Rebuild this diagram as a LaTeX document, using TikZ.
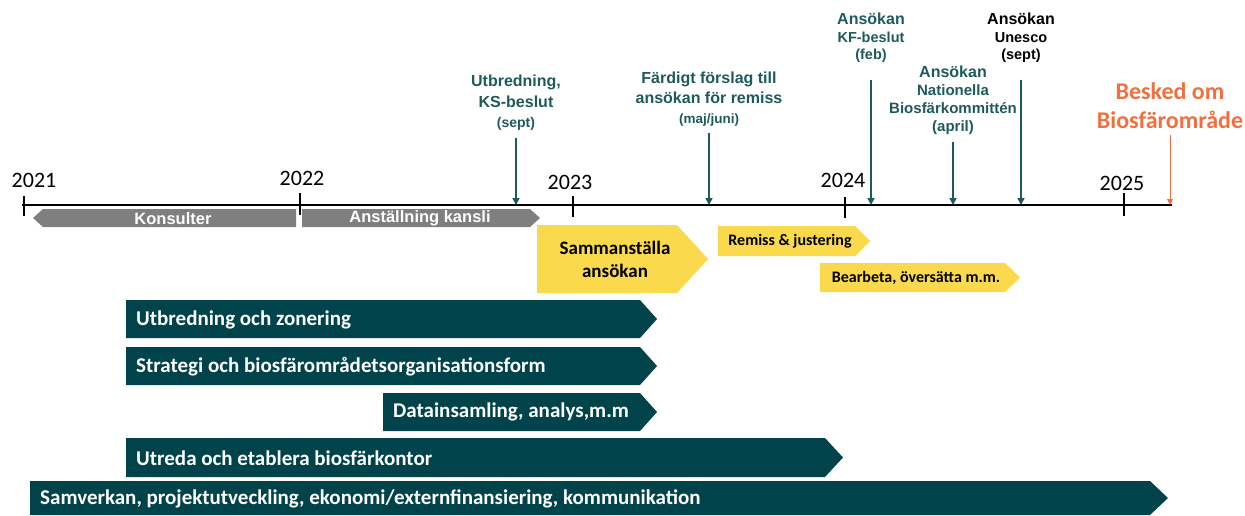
\documentclass[tikz,border=0pt]{standalone}
\usepackage{fontspec}
\setmainfont{Carlito}
\newfontfamily\arialf{Liberation Sans}
\usetikzlibrary{arrows.meta}
\definecolor{dkgreen}{HTML}{00434A}
\definecolor{ylw}{HTML}{FAD94C}
\definecolor{gry}{HTML}{7F7F7F}
\definecolor{tealtxt}{HTML}{1E5A5C}
\definecolor{orng}{HTML}{F07040}
\newcommand\myfs[2]{\fontsize{#1}{#2}\selectfont}
\begin{document}
\begin{tikzpicture}[x=1pt,y=-1pt,
  greenbar/.style={fill=dkgreen},
  yellowbar/.style={fill=ylw},
  graybar/.style={fill=gry},
  greentext/.style={text=white,font=\bfseries\myfs{21}{25},anchor=west,inner sep=0pt},
  yellowtext/.style={text=black,font=\bfseries\myfs{16}{20},align=center,inner sep=0pt},
  graytext/.style={text=white,font=\arialf\bfseries\myfs{16.5}{19},inner sep=0pt},
  yearlbl/.style={font=\myfs{22}{26},inner sep=0pt},
  yeartick/.style={line width=1.4pt,black},
  annot/.style={text=tealtxt,font=\arialf\bfseries\myfs{15}{19},align=center,inner sep=0pt,anchor=south},
  evarrow/.style={draw=tealtxt,line width=1.6pt,-{Triangle[length=7pt,width=7pt]}},
]
\useasboundingbox (0,0) rectangle (1245,515);

% timeline
\coordinate (tlA) at (22,205);
\coordinate (tlB) at (1172,205);
\draw[line width=1.8pt] (tlA) -- (tlB);
\draw[yeartick] (24,196) -- (24,216);
\draw[yeartick] (300,193) -- (300,215);
\draw[yeartick] (573,196) -- (573,217);
\draw[yeartick] (845,197) -- (845,218);
\draw[yeartick] (1124,193) -- (1124,216);
\node[yearlbl] (y21) at (34,180) {2021};
\node[yearlbl] (y22) at (302,178) {2022};
\node[yearlbl] (y23) at (570,182) {2023};
\node[yearlbl] (y24) at (843,180) {2024};
\node[yearlbl] (y25) at (1122,183) {2025};

% gray bars
\fill[graybar] (33,218) -- (43,209) -- (296,209) -- (296,227) -- (43,227) -- cycle;
\node[graytext] (kons) at (173,218.5) {Konsulter};
\fill[graybar] (302,209) -- (530,209) -- (540,218) -- (530,227) -- (302,227) -- cycle;
\node[graytext] (kansli) at (420,218.5) {Anställning kansli};

% yellow bars
\fill[yellowbar] (537,225) -- (677,225) -- (708,259) -- (677,293) -- (537,293) -- cycle;
\node[yellowtext,font=\bfseries\myfs{19}{23}] (samm) at (615,259) {Sammanställa\\ansökan};
\fill[yellowbar] (718,226) -- (855,226) -- (870,241) -- (855,256) -- (718,256) -- cycle;
\node[yellowtext] (remiss) at (790,241) {Remiss \& justering};
\fill[yellowbar] (820,263) -- (1005,263) -- (1020,277.5) -- (1005,292) -- (820,292) -- cycle;
\node[yellowtext] (bearb) at (916,277.5) {Bearbeta, översätta m.m.};

% green bars
\fill[greenbar] (126,300) -- (640,300) -- (657,319) -- (640,338) -- (126,338) -- cycle;
\node[greentext] (g1) at (136,320) {Utbredning och zonering};
\fill[greenbar] (126,347) -- (640,347) -- (657,366) -- (640,385) -- (126,385) -- cycle;
\node[greentext] (g2) at (136,367) {Strategi och biosfärområdetsorganisationsform};
\fill[greenbar] (383,393) -- (640,393) -- (657,412) -- (640,431) -- (383,431) -- cycle;
\node[greentext] (g3) at (393,412) {Datainsamling, analys,m.m};
\fill[greenbar] (126,438) -- (825,438) -- (843,457.5) -- (825,477) -- (126,477) -- cycle;
\node[greentext] (g4) at (136,458) {Utreda och etablera biosfärkontor};
\fill[greenbar] (30,481) -- (1150,481) -- (1168,498) -- (1150,515) -- (30,515) -- cycle;
\node[greentext] (g5) at (40,499) {Samverkan, projektutveckling, ekonomi/externfinansiering, kommunikation};

% annotations
\node[annot,font=\arialf\bfseries\myfs{16}{20.5}] (ks) at (516,131) {Utbredning,\\KS-beslut\\{\myfs{14}{17}(sept)}};
\draw[evarrow,shorten <=7pt] (ks.south) -- (ks.south |- tlA);

\node[annot,font=\arialf\bfseries\myfs{16}{20}] (fard) at (709,126) {Färdigt förslag till\\ansökan för remiss\\{\myfs{13.5}{17}(maj/juni)}};
\draw[evarrow,shorten <=7pt] (fard.south) -- (fard.south |- tlA);

\node[annot,font=\arialf\bfseries\myfs{14.5}{17.5}] (kf) at (871,63) {{\myfs{16}{19}Ansökan}\\KF-beslut\\(feb)};
\draw[evarrow,shorten <=17pt] (kf.south) -- (kf.south |- tlA);

\node[annot,font=\arialf\bfseries\myfs{15}{18}] (nat) at (953,135) {{\myfs{16}{19}Ansökan}\\Nationella\\Biosfärkommittén\\(april)};
\draw[evarrow,shorten <=7pt] (nat.south) -- (nat.south |- tlA);

\node[annot,text=black,font=\arialf\bfseries\myfs{14.5}{17.5}] (un) at (1021,63) {{\myfs{16}{19}Ansökan}\\Unesco\\(sept)};
\draw[evarrow,shorten <=17pt] (un.south) -- (un.south |- tlA);

\node[annot,text=orng,font=\bfseries\myfs{24}{29}] (besk) at (1170,129) {Besked om\\Biosfärområde};
\draw[orng,line width=0.9pt,-{Triangle[length=6pt,width=6pt]},shorten <=6pt] (besk.south) -- (besk.south |- tlB);
\end{tikzpicture}
\end{document}
